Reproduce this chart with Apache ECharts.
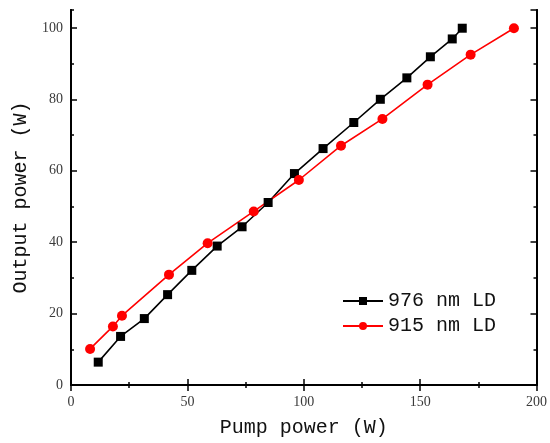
<!DOCTYPE html>
<html>
<head>
<meta charset="utf-8">
<script src="https://cdn.jsdelivr.net/npm/echarts@6/dist/echarts.min.js"></script>
<style>
  html, body { margin: 0; padding: 0; background: #fff; }
  #main { width: 550px; height: 443px; }
</style>
</head>
<body>
<div id="main"></div>
<script>
// 976 nm LD
var pump976 = [11.7, 21.3, 31.5, 41.5, 51.9, 62.8, 73.5, 84.7, 96.0, 108.3, 121.5, 132.9, 144.3, 154.4, 163.8, 168.1];
var out976  = [6.4, 13.6, 18.6, 25.3, 32.1, 38.9, 44.3, 51.1, 59.2, 66.2, 73.5, 80.0, 86.0, 91.9, 96.9, 99.9];
// 915 nm LD
var pump915 = [8.2, 18.0, 21.9, 42.1, 58.7, 78.5, 97.9, 116.0, 133.8, 153.2, 171.7, 190.3];
var out915  = [10.1, 16.4, 19.4, 30.9, 39.7, 48.6, 57.4, 67.0, 74.5, 84.1, 92.5, 99.9];

var seriesNames = ['976 nm LD', '915 nm LD'];

function pairs(xs, ys) {
  var r = [];
  for (var i = 0; i < xs.length; i++) r.push([xs[i], ys[i]]);
  return r;
}

var chart = echarts.init(document.getElementById('main'));

var tickFont = { fontFamily: 'Liberation Serif', fontSize: 14, color: '#3a3a3a' };
var titleFont = { fontFamily: 'Liberation Mono', fontSize: 20, color: '#111' };
var lineStyle = { color: '#000', width: 2 };

function yAx(pos, interval, len, labels) {
  return {
    type: 'value', position: pos, min: 0, max: 105, interval: interval,
    axisLine: { show: true, lineStyle: lineStyle },
    axisTick: { show: true, inside: true, length: len, lineStyle: { color: '#000', width: 1.5 } },
    axisLabel: labels ? Object.assign({ showMaxLabel: false, margin: 8 }, tickFont) : { show: false },
    splitLine: { show: false }
  };
}

var option = {
  animation: false,
  grid: { left: 71, right: 13, top: 10, bottom: 57 },
  legend: {
    data: seriesNames,
    orient: 'vertical',
    left: 337, top: 286,
    itemWidth: 40, itemHeight: 10, itemGap: 5,
    textStyle: { fontFamily: 'Liberation Mono', fontSize: 20, color: '#111' }
  },
  xAxis: [{
    type: 'value', position: 'bottom', min: 0, max: 200, interval: 50,
    name: 'Pump power (W)', nameLocation: 'middle', nameGap: 33,
    nameTextStyle: titleFont,
    axisLine: { show: true, lineStyle: lineStyle },
    axisTick: { show: true, inside: true, length: 6, lineStyle: { color: '#000', width: 1.5 } },
    minorTick: { show: true, splitNumber: 2, length: 3, lineStyle: { color: '#000', width: 1.5 } },
    axisLabel: Object.assign({ margin: 10 }, tickFont),
    splitLine: { show: false }
  }, {
    type: 'value', position: 'top', min: 0, max: 200, interval: 50,
    axisLine: { show: true, lineStyle: lineStyle },
    axisTick: { show: true, inside: true, length: 6, lineStyle: { color: '#000', width: 1.5 } },
    minorTick: { show: true, splitNumber: 2, length: 3, lineStyle: { color: '#000', width: 1.5 } },
    axisLabel: { show: false },
    splitLine: { show: false }
  }],
  yAxis: [
    Object.assign(yAx('left', 20, 6, true), {
      name: 'Output power (W)', nameLocation: 'middle', nameGap: 35,
      nameTextStyle: titleFont
    }),
    yAx('left', 10, 3, false),
    yAx('right', 20, 6, false),
    yAx('right', 10, 3, false)
  ],
  series: [{
    name: seriesNames[0],
    type: 'line',
    data: pairs(pump976, out976),
    symbol: 'rect', symbolSize: 9,
    itemStyle: { color: '#000' },
    lineStyle: { color: '#000', width: 1.6 }
  }, {
    name: seriesNames[1],
    type: 'line',
    data: pairs(pump915, out915),
    symbol: 'circle', symbolSize: 10,
    itemStyle: { color: '#ff0000' },
    lineStyle: { color: '#ff0000', width: 1.6 }
  }]
};

chart.setOption(option);
</script>
</body>
</html>
